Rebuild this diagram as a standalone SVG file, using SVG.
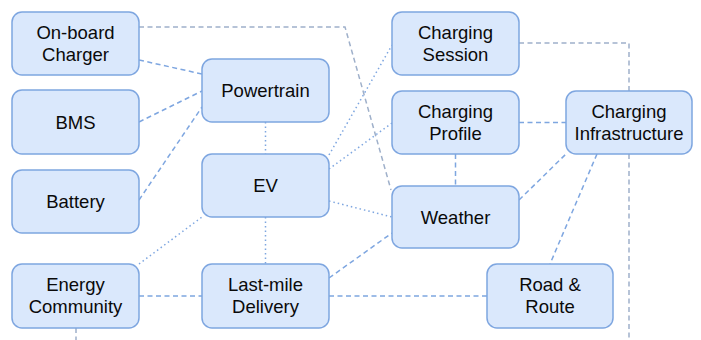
<svg xmlns="http://www.w3.org/2000/svg" width="701" height="340" viewBox="0 0 701 340">
<style>
.n rect{fill:#dae8fc;stroke:#7ea6e0;stroke-width:1.5}
.n text{font-family:"Liberation Sans",Arial,sans-serif;font-size:18.5px;fill:#0a0a0a;text-anchor:middle}
.c path{fill:none;stroke-width:1.5}
.da{stroke:#7ea6e0;stroke-dasharray:5 3.5}
.dg{stroke:#9fb0ca;stroke-dasharray:5 3.5}
.dt{stroke:#7ea6e0;stroke-dasharray:1.5 3}
</style>
<rect width="701" height="340" fill="#fff"/>
<g id="connectors" class="c">
<path class="dg" d="M139 27H345L391 190"/>
<path class="da" d="M139 60L202 74"/>
<path class="da" d="M139 122L202 91"/>
<path class="da" d="M139 200L202 107"/>
<path class="dt" d="M265.5 122V154"/>
<path class="dt" d="M265.5 217V264"/>
<path class="dt" d="M329 155L392 45"/>
<path class="dt" d="M329 169L392 123"/>
<path class="dt" d="M329 201L392 217"/>
<path class="dt" d="M139 264L202 217"/>
<path class="da" d="M139 296H202"/>
<path class="da" d="M329 296H487"/>
<path class="da" d="M329 278L392 233"/>
<path class="da" d="M519 122.5H566"/>
<path class="da" d="M455.5 154V186"/>
<path class="da" d="M519 200L566 154"/>
<path class="da" d="M597 154L550 264"/>
<path class="dg" d="M519 43H629V340"/>
<path class="dg" d="M76 328V340"/>
</g>
<g id="onboard-charger" class="n"><rect x="12" y="12" width="127" height="63" rx="10"/><text x="75.5" y="38.5">On-board</text><text x="75.5" y="60.5">Charger</text></g>
<g id="bms" class="n"><rect x="12" y="90" width="127" height="64" rx="10"/><text x="75.5" y="128.5">BMS</text></g>
<g id="battery" class="n"><rect x="12" y="170" width="127" height="63" rx="10"/><text x="75.5" y="208">Battery</text></g>
<g id="energy-community" class="n"><rect x="12" y="264" width="127" height="64" rx="10"/><text x="75.5" y="291">Energy</text><text x="75.5" y="313">Community</text></g>
<g id="powertrain" class="n"><rect x="202" y="59" width="127" height="63" rx="10"/><text x="265.5" y="97">Powertrain</text></g>
<g id="ev" class="n"><rect x="202" y="154" width="127" height="63" rx="10"/><text x="265.5" y="192">EV</text></g>
<g id="last-mile-delivery" class="n"><rect x="202" y="264" width="127" height="64" rx="10"/><text x="265.5" y="291">Last-mile</text><text x="265.5" y="313">Delivery</text></g>
<g id="charging-session" class="n"><rect x="392" y="12" width="127" height="63" rx="10"/><text x="455.5" y="38.5">Charging</text><text x="455.5" y="60.5">Session</text></g>
<g id="charging-profile" class="n"><rect x="392" y="91" width="127" height="63" rx="10"/><text x="455.5" y="117.5">Charging</text><text x="455.5" y="139.5">Profile</text></g>
<g id="weather" class="n"><rect x="392" y="186" width="127" height="62" rx="10"/><text x="455.5" y="223.5">Weather</text></g>
<g id="charging-infrastructure" class="n"><rect x="566" y="91" width="126" height="63" rx="10"/><text x="629" y="117.5">Charging</text><text x="629" y="139.5">Infrastructure</text></g>
<g id="road-route" class="n"><rect x="487" y="264" width="126" height="64" rx="10"/><text x="550" y="291">Road &amp;</text><text x="550" y="313">Route</text></g>
</svg>
